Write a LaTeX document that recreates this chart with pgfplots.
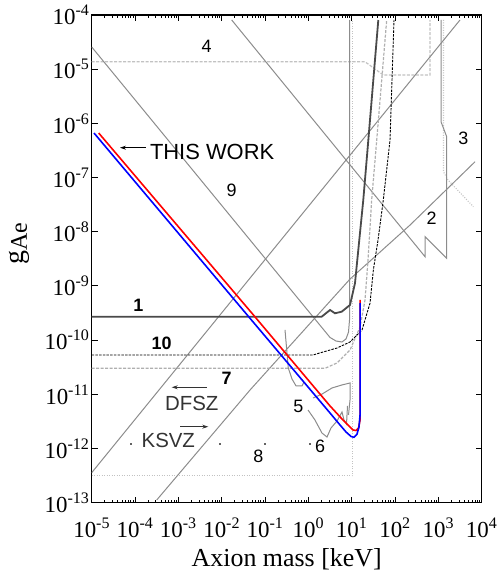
\documentclass[border=0pt]{standalone}
\usepackage{fontspec}
\setmainfont{Liberation Serif}
\newfontfamily\lsans{Liberation Sans}
\usepackage{pgfplots}
\pgfplotsset{compat=1.18}
\usetikzlibrary{arrows.meta}
\definecolor{gmid}{HTML}{8C8C8C}
\definecolor{glight}{HTML}{AFAFAF}
\definecolor{gpale}{HTML}{C2C2C2}
\definecolor{gdark}{HTML}{4A4A4A}
\definecolor{tw}{HTML}{333333}

\begin{document}
\begin{tikzpicture}[x=1bp,y=1bp]
\useasboundingbox (0,0) rectangle (498,573);
\begin{axis}[
    at={(91.7bp,70.3bp)}, anchor=south west,
    width=390bp, height=487.7bp, scale only axis,
    xmode=log, ymode=log,
    xmin=1e-5, xmax=1e4, ymin=1e-13, ymax=1e-4,
    yminorticks=false,
    axis line style={line width=1.2bp},
    major tick style={line width=0.9bp, black},
    minor tick style={line width=0.7bp, black},
    major tick length=6bp, minor tick length=3bp,
    log number format basis/.code 2 args={#1\textsuperscript{\pgfmathprintnumber[assume math mode=true]{#2}}},
    tick label style={font=\fontsize{23}{23}\selectfont, inner sep=0pt},
    xticklabel style={yshift=-15bp},
    yticklabel style={xshift=-2bp},
]
% 4
\addplot[gpale, line width=1.2bp, dash pattern=on 3bp off 1.5bp] coordinates {
 (1e-5,1.37e-5) (20.3,1.37e-5) (53.6,7.81e-6) (641,7.81e-6) (641,8.09e-5)};
% 8
\addplot[gpale, line width=1.1bp, dash pattern=on 1bp off 1.5bp] coordinates {
 (1e-5,3.15e-13) (10.5,3.15e-13) (10.5,8.09e-5)};
% 3
\addplot[gpale, line width=1.1bp, dash pattern=on 1bp off 1.5bp] coordinates {
 (1315,8.09e-5) (1315,1.27e-7) (1671,9.02e-8) (6412,2.90e-8)};
% 9
\addplot[gmid, line width=1bp] coordinates {
 (1e-5,2.57e-5) (3.16,1.12e-10) (4.35,9.64e-11) (5.97,9.24e-11) (7.39,1.05e-10)
 (8.44,1.41e-10) (8.90,2.36e-10) (8.90,8.09e-5)};
% 2
\addplot[gmid, line width=1bp] coordinates {
 (0.0170,8.09e-5) (492,3.47e-9) (492,8.11e-9) (1556,3.24e-9) (1556,5.68e-7)
 (1151,1.07e-6) (1151,8.09e-5)};
% DFSZ
\addplot[gmid, line width=1bp] coordinates {(1e-5,3.58e-13) (3155,8.09e-5)};
% KSVZ
\addplot[gmid, line width=1bp] coordinates {
 (3.16e-4,1.12e-13) (0.0450,1.20e-11) (9.14,1.34e-9) (222,1.33e-8) (7015,1.96e-7)};
% 7
\addplot[glight, line width=1.2bp, dash pattern=on 3bp off 1.5bp] coordinates {
 (1e-5,3.02e-11) (2.42,3.02e-11) (4.58,3.79e-11) (9.14,6.58e-11) (15.6,1.75e-10)
 (20.3,5.51e-10) (23.8,3.01e-9) (28.9,3.86e-8) (37.8,4.93e-7) (64.2,8.09e-5)};
% 10
\addplot[black, line width=0.9bp, dash pattern=on 2.5bp off 1.2bp] coordinates {
 (1e-5,5.32e-11) (1.28,5.32e-11) (2.18,6.04e-11) (4.58,7.16e-11) (9.14,9.24e-11)
 (17.3,1.54e-10) (26.5,4.84e-10) (31.6,1.97e-9) (40.5,7.05e-9) (53.6,3.86e-8)
 (76.6,4.93e-7) (94.6,8.09e-5)};
% 1
\addplot[gdark, line width=1.8bp] coordinates {
 (1e-5,2.71e-10) (2.03,2.71e-10) (3.16,3.60e-10) (4.12,3.13e-10) (5.88,3.35e-10)
 (9.14,4.46e-10) (11.9,1.12e-9) (18.5,3.86e-8) (24.2,4.93e-7) (41.1,8.09e-5)};
% 5
\addplot[gmid, line width=1bp] coordinates {
 (0.289,1.54e-10) (0.344,3.06e-11) (0.419,1.92e-11) (0.519,1.43e-11) (0.713,1.43e-11) (0.793,1.69e-11)};
\addplot[gmid, line width=1bp] coordinates {
 (1.28,8.55e-12) (2.06,1.01e-11) (3.51,1.31e-11) (5.97,1.49e-11) (9.14,1.62e-11)
 (9.14,7.85e-12) (8.44,4.16e-12)};
% 6
\addplot[gmid, line width=1bp] coordinates {
 (0.982,5.14e-12) (1.42,3.36e-12) (2.06,1.93e-12) (2.69,1.63e-12) (3.33,2.39e-12)
 (4.58,3.22e-12) (5.97,4.72e-12) (6.65,3.36e-12) (7.59,2.83e-12) (8.00,6.10e-12)};
% dots
\addplot[only marks, mark=*, mark size=0.6bp, black] coordinates {
 (8.07e-5,1.21e-12) (9.14e-3,1.21e-12) (0.0998,1.21e-12) (1.09,1.21e-12)};
% this work
\addplot[red, line width=1.6bp] coordinates {
 (1.45e-5,6.64e-7) (0.050,3.13e-10) (3.16,6.10e-12) (5.97,3.51e-12) (8.67,2.61e-12)
 (10.7,2.20e-12) (12.6,2.15e-12) (14.4,2.39e-12) (15.6,3.36e-12) (15.6,5.51e-10)};
\addplot[blue, line width=1.6bp] coordinates {
 (1.13e-5,6.64e-7) (0.0450,2.53e-10) (3.16,4.52e-12) (5.37,2.72e-12) (7.39,2.02e-12)
 (9.64,1.67e-12) (11.3,1.61e-12) (13.2,1.82e-12) (14.7,2.49e-12) (15.6,4.16e-12) (15.6,4.84e-10)};
\end{axis}
% labels
\node[anchor=base, font=\fontsize{26}{26}\selectfont] at (286.7,6.3) {Axion mass [keV]};
\node[rotate=90, font=\fontsize{28}{28}\selectfont] at (19,329) {g\raisebox{-0.3ex}{\fontsize{24}{24}\selectfont Ae}};
% annotations
\begin{scope}[font=\lsans\fontsize{18}{18}\selectfont]
\node at (206.7,526.3) {4};
\node at (231.7,383) {9};
\node at (463.3,434.7) {3};
\node at (431.7,354.7) {2};
\node at (298.3,166.3) {5};
\node at (320,126.3) {6};
\node at (258.3,116.3) {8};
\node[font=\lsans\bfseries\fontsize{18}{18}\selectfont] at (138.3,268) {1};
\node[font=\lsans\bfseries\fontsize{18}{18}\selectfont] at (161.7,229.7) {10};
\node[font=\lsans\bfseries\fontsize{18}{18}\selectfont] at (226.7,194.7) {7};
\node[text=tw, font=\lsans\fontsize{20.5}{20.5}\selectfont] at (191.7,169.7) {DFSZ};
\node[text=tw, font=\lsans\fontsize{20.5}{20.5}\selectfont] at (168.3,133) {KSVZ};
\end{scope}
\draw[tw, line width=0.8bp, -{Stealth[length=6bp,width=4bp]}] (206.7,185.7) -- (171.7,185.7);
\draw[tw, line width=0.8bp, -{Stealth[length=6bp,width=4bp]}] (180,146.3) -- (208.3,146.3);
\node[anchor=west, font=\lsans\fontsize{22}{22}\selectfont] at (146.5,421.5) {THIS WORK};
\draw[black, line width=0.8bp, -{Stealth[length=6bp,width=4bp]}] (145.7,425.3) -- (120,425.3);
\end{tikzpicture}
\end{document}
